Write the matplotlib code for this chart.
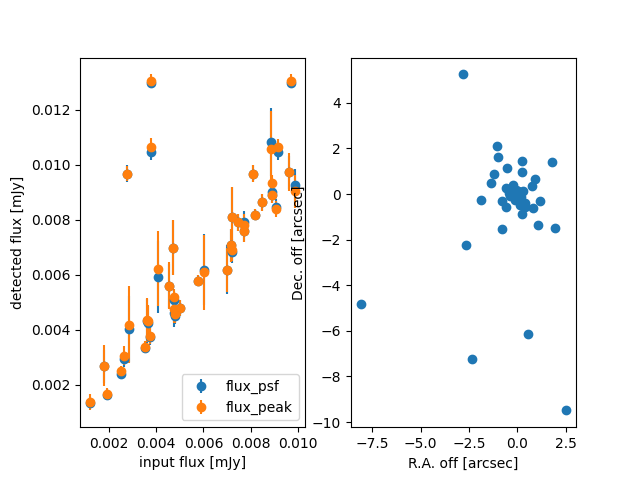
import numpy as np
import matplotlib
matplotlib.use('Agg')
import matplotlib.pyplot as plt

# input flux of the injected sources [mJy]
flux_in = [0.00123, 0.00192, 0.00183, 0.00253, 0.00267, 0.00286, 0.00352, 0.00373,
           0.00362, 0.00367, 0.00409, 0.00457, 0.00472, 0.00478, 0.00478, 0.00502,
           0.00480, 0.00579, 0.00603, 0.00701, 0.00721, 0.00715, 0.00720, 0.00747,
           0.00771, 0.00771, 0.00818, 0.00847, 0.00808, 0.00280, 0.00380, 0.00968,
           0.00380, 0.00885, 0.00916, 0.00962, 0.00987, 0.00890, 0.00890, 0.00905]

flux_psf = [0.00133, 0.00163, 0.00267, 0.00240, 0.00293, 0.00403, 0.00333, 0.00374,
            0.00432, 0.00425, 0.00592, 0.00560, 0.00697, 0.00509, 0.00461, 0.00479,
            0.00450, 0.00578, 0.00618, 0.00618, 0.00681, 0.00707, 0.00808, 0.00790,
            0.00792, 0.00757, 0.00818, 0.00863, 0.00967, 0.00967, 0.01297, 0.01297,
            0.01045, 0.01083, 0.01045, 0.00973, 0.00924, 0.00900, 0.00891, 0.00845]
err_psf = [0.00020, 0.00020, 0.00060, 0.00020, 0.00030, 0.00120, 0.00020, 0.00030,
           0.00080, 0.00060, 0.00130, 0.00080, 0.00100, 0.00030, 0.00050, 0.00030,
           0.00030, 0.00020, 0.00130, 0.00090, 0.00040, 0.00060, 0.00110, 0.00030,
           0.00040, 0.00040, 0.00020, 0.00030, 0.00030, 0.00030, 0.00020, 0.00020,
           0.00030, 0.00124, 0.00030, 0.00060, 0.00060, 0.00030, 0.00030, 0.00030]

flux_peak = [0.00136, 0.00166, 0.00269, 0.00248, 0.00305, 0.00418, 0.00337, 0.00378,
             0.00436, 0.00430, 0.00621, 0.00560, 0.00697, 0.00517, 0.00475, 0.00479,
             0.00455, 0.00578, 0.00608, 0.00618, 0.00690, 0.00707, 0.00808, 0.00790,
             0.00782, 0.00757, 0.00818, 0.00863, 0.00967, 0.00967, 0.01303, 0.01303,
             0.01063, 0.01055, 0.01063, 0.00973, 0.00903, 0.00932, 0.00891, 0.00838]
err_peak = [0.00030, 0.00020, 0.00074, 0.00020, 0.00035, 0.00139, 0.00020, 0.00030,
            0.00080, 0.00060, 0.00136, 0.00084, 0.00100, 0.00030, 0.00050, 0.00030,
            0.00030, 0.00020, 0.00136, 0.00080, 0.00040, 0.00060, 0.00110, 0.00030,
            0.00040, 0.00040, 0.00020, 0.00030, 0.00030, 0.00027, 0.00025, 0.00025,
            0.00035, 0.00140, 0.00030, 0.00070, 0.00060, 0.00030, 0.00030, 0.00030]

# positional offsets [arcsec]
ra_off = [-2.80, -1.05, -1.00, 0.24, 1.78, -0.55, 0.24, -1.21, 0.91, -1.36,
          0.75, -0.57, -0.23, 0.02, -0.40, 0.20, -0.14, 0.10, -0.30, 0.38,
          -1.88, 1.16, -0.81, -0.57, 0.80, 0.38, 0.24, 1.08, -0.79, 1.94,
          -2.65, -8.08, 0.52, -2.34, 2.49, 0.05, -0.10, 0.30, -0.45, 0.15]
dec_off = [5.25, 2.11, 1.62, 1.43, 1.40, 1.13, 0.95, 0.88, 0.66, 0.47,
           0.35, 0.28, 0.40, 0.15, -0.10, -0.15, -0.25, 0.05, 0.10, -0.41,
           -0.28, -0.32, -0.31, -0.58, -0.63, -0.56, -0.89, -1.37, -1.54, -1.51,
           -2.25, -4.82, -6.15, -7.25, -9.49, -0.05, 0.20, 0.15, 0.05, -0.50]

fig = plt.figure(figsize=(6.4, 4.8), dpi=100)

plt.subplot(1, 2, 1)
plt.errorbar(flux_in, flux_psf, yerr=err_psf, fmt='o', label='flux_psf')
plt.errorbar(flux_in, flux_peak, yerr=err_peak, fmt='o', label='flux_peak')
plt.xlabel('input flux [mJy]')
plt.ylabel('detected flux [mJy]')
plt.legend(loc='lower right')

plt.subplot(1, 2, 2)
plt.plot(ra_off, dec_off, 'o')
plt.xlabel('R.A. off [arcsec]')
plt.ylabel('Dec. off [arcsec]')

plt.savefig('out.png')
